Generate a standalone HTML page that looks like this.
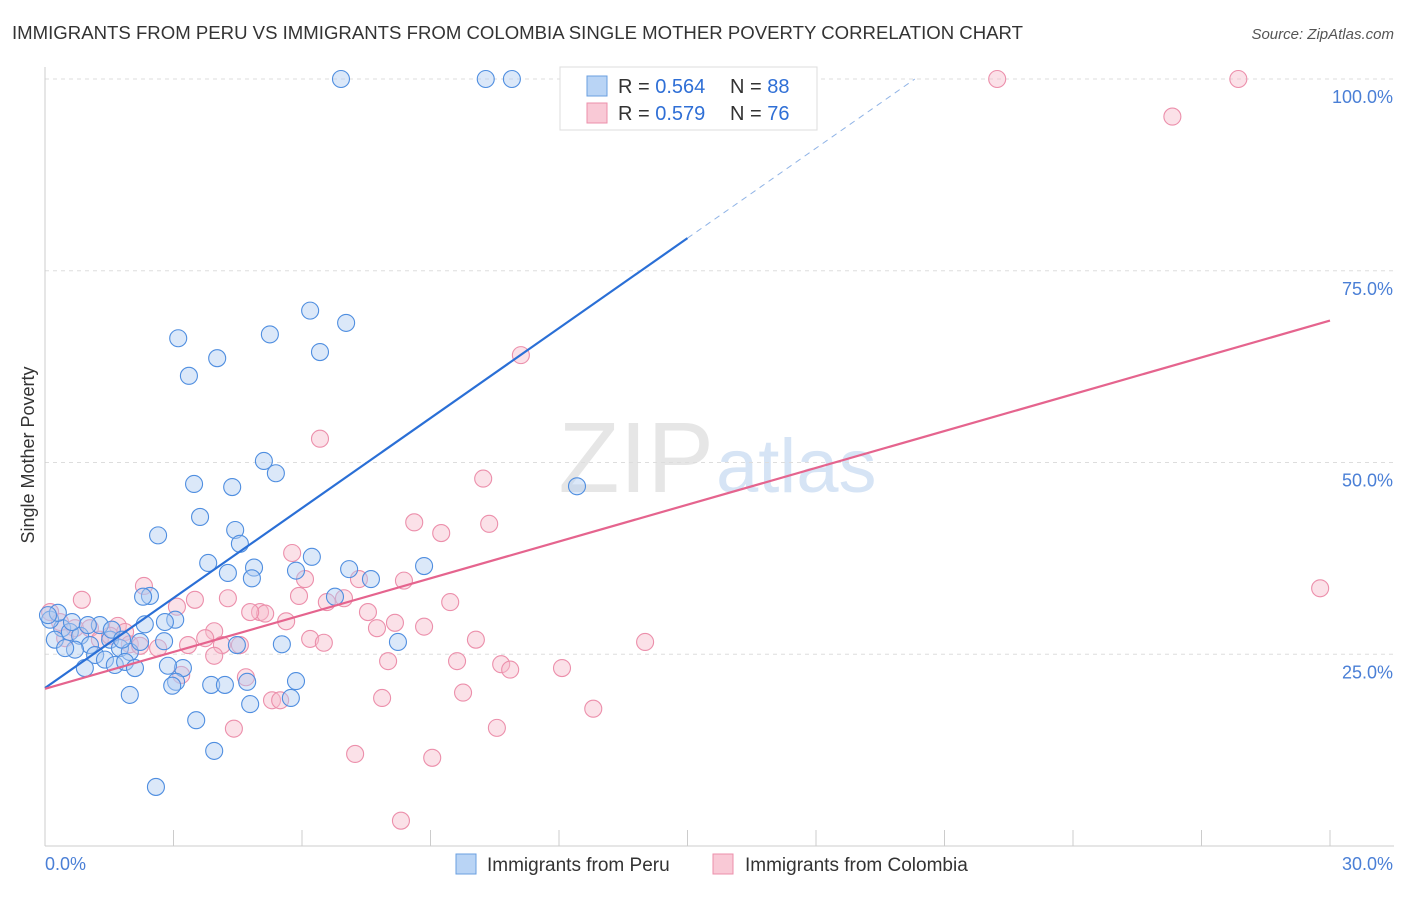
<!DOCTYPE html>
<html><head><meta charset="utf-8"><style>
body{margin:0;background:#fff;font-family:"Liberation Sans",sans-serif}
svg text{font-family:"Liberation Sans",sans-serif}
</style></head><body>
<svg id="chart" width="1406" height="892" viewBox="0 0 1406 892">
<text x="12" y="39" font-size="18" fill="#333" textLength="1011" lengthAdjust="spacingAndGlyphs">IMMIGRANTS FROM PERU VS IMMIGRANTS FROM COLOMBIA SINGLE MOTHER POVERTY CORRELATION CHART</text>
<text x="1394" y="39" font-size="15" fill="#555" font-style="italic" text-anchor="end">Source: ZipAtlas.com</text>
<text x="714" y="492" font-size="100" fill="#e6e6e6" text-anchor="end" font-family="Liberation Serif">ZIP</text>
<text x="716" y="492" font-size="76" fill="#d6e4f5">atlas</text>
<g id="grid"></g>
<g id="axes"></g>
<g id="pts"></g>
<g id="lines"></g>
<text x="34" y="455" font-size="18" fill="#333" text-anchor="middle" transform="rotate(-90 34 455)">Single Mother Poverty</text>
<g>
<rect x="560" y="67" width="257" height="63" fill="#fff" stroke="#ddd"/>
<rect x="587" y="76" width="20" height="20" fill="#b9d4f5" stroke="#6a9fe0"/>
<rect x="587" y="103" width="20" height="20" fill="#f9c9d6" stroke="#ec8fab"/>
<text x="618" y="93" font-size="20" fill="#333">R = <tspan fill="#2f6fd6">0.564</tspan></text>
<text x="730" y="93" font-size="20" fill="#333">N = <tspan fill="#2f6fd6">88</tspan></text>
<text x="618" y="120" font-size="20" fill="#333">R = <tspan fill="#2f6fd6">0.579</tspan></text>
<text x="730" y="120" font-size="20" fill="#333">N = <tspan fill="#2f6fd6">76</tspan></text>
</g>
<g>
<rect x="456" y="854" width="20" height="20" fill="#b9d4f5" stroke="#6a9fe0"/>
<text x="487" y="871" font-size="19" fill="#333">Immigrants from Peru</text>
<rect x="713" y="854" width="20" height="20" fill="#f9c9d6" stroke="#ec8fab"/>
<text x="745" y="871" font-size="19" fill="#333">Immigrants from Colombia</text>
</g>
</svg>
<script>
const peruX=[6.91,10.29,10.90,3.11,4.02,3.36,5.25,6.19,7.03,6.42,12.42,5.11,5.39,3.48,4.37,3.62,2.64,4.44,4.55,3.81,4.27,4.88,4.83,5.86,6.23,7.10,7.61,8.85,6.77,8.24,5.53,2.45,2.29,3.04,2.78,3.22,2.87,3.06,2.97,3.88,4.20,4.72,5.86,5.74,4.79,1.98,3.53,3.95,2.59,4.48,0.40,0.23,0.58,0.82,1.05,1.28,1.52,1.75,1.98,1.17,0.70,0.47,0.93,1.40,1.63,1.87,2.10,0.12,0.30,0.63,1.00,1.56,2.22,1.80,2.33,2.80,0.07];
const peruY=[100,100,100,66.2,63.6,61.3,66.7,69.8,68.2,64.4,46.9,50.2,48.6,47.2,46.8,42.9,40.5,41.2,39.4,36.9,35.6,36.3,34.9,35.9,37.7,36.1,34.8,36.5,32.5,26.6,26.3,32.6,32.5,29.5,26.7,23.2,23.5,21.4,20.9,21.0,21.0,21.4,21.5,19.3,18.5,19.7,16.4,12.4,7.7,26.2,28.4,26.9,27.9,27.4,26.2,28.8,26.9,25.8,25.3,24.9,25.6,25.8,23.2,24.3,23.6,24.0,23.2,29.5,30.4,29.2,28.8,28.2,26.6,26.9,28.9,29.2,30.1];
const colX=[22.23,27.86,26.32,11.11,6.42,10.23,8.62,10.37,9.25,5.77,29.77,7.33,8.38,6.07,5.93,6.58,6.98,9.46,7.54,8.17,8.85,7.75,5.02,5.14,4.79,4.27,3.50,3.08,2.31,0.86,1.70,5.63,6.19,6.51,10.06,14.01,3.95,3.74,4.13,4.55,3.34,2.64,3.95,8.01,9.62,10.65,10.86,12.07,4.69,3.18,9.76,7.87,5.30,5.49,12.80,4.41,10.55,7.24,9.04,8.31,0.12,0.35,0.70,1.05,1.28,0.47,1.87,1.98,1.52,2.22];
const colY=[100,100,95.1,64.0,53.1,47.9,42.2,42.0,40.8,38.2,33.6,34.8,34.6,34.8,32.6,31.8,32.3,31.8,30.5,29.1,28.6,28.4,30.5,30.3,30.5,32.3,32.1,31.2,33.9,32.1,28.7,29.3,27.0,26.5,26.9,26.6,28.0,27.1,26.2,26.2,26.2,25.8,24.8,24.1,24.1,23.7,23.0,23.2,22.0,22.3,20.0,19.3,19.0,19.0,17.9,15.3,15.4,12.0,11.5,3.3,30.5,29.2,28.4,28.4,26.9,27.1,27.9,26.3,27.4,26.1];
const yTicks=[25,50,75,100];
const yTickLabels=["25.0%","50.0%","75.0%","100.0%"];
const xTicks=[0,3,6,9,12,15,18,21,24,27,30];
const peruTrend=[20.6,3.91];
const colTrend=[20.5,1.6];
const NS='http://www.w3.org/2000/svg';
const sx=v=>45+v/30*1285;
const sy=v=>846-v/100*767;
function mk(tag,attrs,parent){const e=document.createElementNS(NS,tag);for(const k in attrs)e.setAttribute(k,attrs[k]);parent.appendChild(e);return e;}
const grid=document.getElementById('grid'),axes=document.getElementById('axes'),pts=document.getElementById('pts'),lines=document.getElementById('lines');
yTicks.forEach((t,i)=>{
 const l=mk('line',{x1:45,x2:1394,y1:sy(t),y2:sy(t),stroke:'#ddd','stroke-dasharray':'4,4'},grid);
 
 
 const tx=mk('text',{x:1393,y:sy(t)+24,'font-size':18,fill:'#4a7fd6','text-anchor':'end'},axes);
 tx.textContent=yTickLabels[i];
 
 
});
const xa=mk('line',{x1:45,x2:1394,y1:846,y2:846,stroke:'#ccc'},axes);


const ya=mk('line',{x1:45,x2:45,y1:67,y2:846,stroke:'#ccc'},axes);


xTicks.forEach(t=>{
 const l=mk('line',{x1:sx(t),x2:sx(t),y1:830,y2:846,stroke:'#ccc'},axes);
 
 
});
const x0=mk('text',{x:45,y:870,'font-size':18,fill:'#4a7fd6'},axes);x0.textContent=xTicks[0].toFixed(1)+'%';


const x1=mk('text',{x:1393,y:870,'font-size':18,fill:'#4a7fd6','text-anchor':'end'},axes);x1.textContent=xTicks[xTicks.length-1].toFixed(1)+'%';


function dots(X,Y,fill,stroke,name){X.forEach((x,i)=>{
 const c=mk('circle',{cx:sx(x),cy:sy(Y[i]),r:8.5,fill:fill,'fill-opacity':0.45,stroke:stroke,'stroke-width':1.1},pts);
 
 
});}
dots(colX,colY,'#f7bccd','#ec8fab','point-colombia');
dots(peruX,peruY,'#b0cdf2','#4f8ee0','point-peru');
const pEnd=15, pDashEnd=(100-peruTrend[0])/peruTrend[1];
const pl=mk('line',{x1:sx(0),y1:sy(peruTrend[0]),x2:sx(pEnd),y2:sy(peruTrend[0]+peruTrend[1]*pEnd),stroke:'#2a6fd6','stroke-width':2.2},lines);


const pd=mk('line',{x1:sx(pEnd),y1:sy(peruTrend[0]+peruTrend[1]*pEnd),x2:sx(pDashEnd),y2:sy(100),stroke:'#8fb3e6','stroke-width':1,'stroke-dasharray':'6,5'},lines);


const cl=mk('line',{x1:sx(0),y1:sy(colTrend[0]),x2:sx(30),y2:sy(colTrend[0]+colTrend[1]*30),stroke:'#e5648e','stroke-width':2.2},lines);


</script>
</body></html>
